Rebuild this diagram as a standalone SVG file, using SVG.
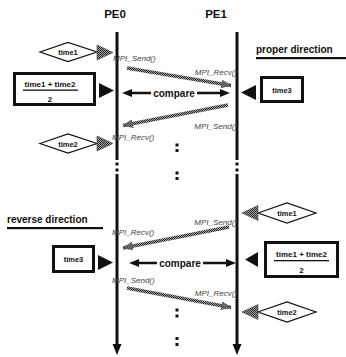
<svg xmlns="http://www.w3.org/2000/svg" width="346" height="357" viewBox="0 0 346 357">
<defs>
<pattern id="hatch" width="2" height="2" patternUnits="userSpaceOnUse">
<rect width="2" height="2" fill="#a8a8a8"/>
<rect width="1" height="1" fill="#222"/>
<rect x="1" y="1" width="1" height="1" fill="#222"/>
</pattern>
<marker id="hh" viewBox="0 0 10 8" refX="10" refY="4" markerWidth="10" markerHeight="8" markerUnits="userSpaceOnUse" orient="auto">
<path d="M0,0 L10,4 L0,8 z" fill="url(#hatch)" stroke="#444" stroke-width="0.6"/>
</marker>
</defs>
<style>
.life{stroke:#111;stroke-width:3;fill:none}
.msg{stroke:url(#hatch);stroke-width:3.5;fill:none;marker-end:url(#hh)}
.cmp{stroke:#111;stroke-width:2.5;fill:none}
.lbl{font-family:"Liberation Sans",Arial,sans-serif;font-size:8px;fill:#444;font-style:italic}
.b{font-family:"Liberation Sans",Arial,sans-serif;font-weight:bold;fill:#111}
.dia{fill:#fff;stroke:#111;stroke-width:1.2}
.box{fill:#fff;stroke:#111;stroke-width:3}
.htri{fill:url(#hatch);stroke:#444;stroke-width:0.6}
.dot{fill:#111}
</style>

<g id="PE0">
<text class="b" x="115" y="18" font-size="11.5" text-anchor="middle">PE0</text>
<path class="life" d="M117,32 V160 M117,174 V346"/>
<rect class="dot" x="115.5" y="162.5" width="3" height="3"/>
<rect class="dot" x="115.5" y="168.5" width="3" height="3"/>
<path d="M112.5,344 L121.5,344 L117,355 z" fill="#111"/>
</g>

<g id="PE1">
<text class="b" x="216" y="18" font-size="11.5" text-anchor="middle">PE1</text>
<path class="life" d="M237,32 V160 M237,174 V346"/>
<rect class="dot" x="235.5" y="162.5" width="3" height="3"/>
<rect class="dot" x="235.5" y="168.5" width="3" height="3"/>
<path d="M232.5,344 L241.5,344 L237,355 z" fill="#111"/>
</g>

<g id="ellipses">
<rect class="dot" x="175.5" y="143.5" width="3" height="3"/>
<rect class="dot" x="175.5" y="149" width="3" height="3"/>
<rect class="dot" x="175.5" y="171.5" width="3" height="3"/>
<rect class="dot" x="175.5" y="177" width="3" height="3"/>
<rect class="dot" x="175.5" y="308.5" width="3" height="3"/>
<rect class="dot" x="175.5" y="314.5" width="3" height="3"/>
<rect class="dot" x="175.5" y="337" width="3" height="3"/>
<rect class="dot" x="175.5" y="343" width="3" height="3"/>
</g>

<g id="proper-title">
<text class="b" x="256" y="53" font-size="10">proper direction</text>
<rect x="256" y="57" width="90" height="2.2" fill="#111"/>
</g>

<g id="p-time1">
<polygon class="dia" points="40,52 68,42.5 97,52 68,61.5"/>
<text class="b" x="68" y="55" font-size="7.5" text-anchor="middle">time1</text>
<polygon class="htri" points="97,45 113,52.5 97,60"/>
</g>

<g id="p-avg">
<rect class="box" x="14.5" y="73.5" width="80" height="31"/>
<text class="b" x="50" y="86.5" font-size="8" text-anchor="middle">time1 + time2</text>
<rect x="23" y="89.5" width="55" height="1.3" fill="#111"/>
<text class="b" x="50" y="102" font-size="8" text-anchor="middle">2</text>
<polygon points="99,83 114,90.5 99,98" fill="#111"/>
</g>

<g id="p-time2">
<polygon class="dia" points="40,143.5 68,134 97,143.5 68,153"/>
<text class="b" x="68" y="146.5" font-size="7.5" text-anchor="middle">time2</text>
<polygon class="htri" points="97,136 113,143.5 97,151"/>
</g>

<g id="p-time3">
<rect class="box" x="261.5" y="77.5" width="41" height="24"/>
<text class="b" x="282" y="92.5" font-size="7.5" text-anchor="middle">time3</text>
<polygon points="256,85 241,92.5 256,100" fill="#111"/>
</g>

<g id="reverse-title">
<text class="b" x="7" y="223" font-size="10">reverse direction</text>
<rect x="7" y="227" width="96" height="2.2" fill="#111"/>
</g>

<g id="r-time3">
<rect class="box" x="53.5" y="246.5" width="40" height="25"/>
<text class="b" x="73.5" y="262" font-size="7.5" text-anchor="middle">time3</text>
<polygon points="98,255 113,262.5 98,270" fill="#111"/>
</g>

<g id="r-time1">
<polygon class="dia" points="258,213 287,203 316,213 287,223"/>
<text class="b" x="287" y="216" font-size="7.5" text-anchor="middle">time1</text>
<polygon class="htri" points="258,205.5 242,213 258,220.5"/>
</g>

<g id="r-avg">
<rect class="box" x="265.5" y="242.5" width="72" height="34"/>
<text class="b" x="301.5" y="257" font-size="8" text-anchor="middle">time1 + time2</text>
<rect x="274" y="260" width="55" height="1.3" fill="#111"/>
<text class="b" x="301.5" y="273" font-size="8" text-anchor="middle">2</text>
<polygon points="258,252 245,259.5 258,267" fill="#111"/>
</g>

<g id="r-time2">
<polygon class="dia" points="258,312 287,302 316,312 287,322"/>
<text class="b" x="287" y="315" font-size="7.5" text-anchor="middle">time2</text>
<polygon class="htri" points="258,304.5 242,312 258,319.5"/>
</g>

<g id="connectors">
<path class="msg" d="M127,68 L231,85.5"/>
<path class="msg" d="M228,105 L123,125.5"/>
<path class="cmp" d="M130,93 H151 M197,93 H221"/>
<path d="M122,93 L132,89 L132,97 z M230,93 L220,89 L220,97 z" fill="#111"/>
<text class="b" x="174" y="96.5" font-size="10" text-anchor="middle">compare</text>

<path class="msg" d="M229,227 L123,248"/>
<path class="msg" d="M127,288 L231,307.5"/>
<path class="cmp" d="M138,263 H157 M203,263 H227"/>
<path d="M129,263 L139,259 L139,267 z M236,263 L226,259 L226,267 z" fill="#111"/>
<text class="b" x="180" y="266.5" font-size="10" text-anchor="middle">compare</text>

<text class="lbl" x="113" y="61">MPI_Send()</text>
<text class="lbl" x="237" y="75" text-anchor="end">MPI_Recv()</text>
<text class="lbl" x="237" y="129" text-anchor="end">MPI_Send()</text>
<text class="lbl" x="112" y="140">MPI_Recv()</text>
<text class="lbl" x="237" y="225" text-anchor="end">MPI_Send()</text>
<text class="lbl" x="112" y="235">MPI_Recv()</text>
<text class="lbl" x="112" y="283">MPI_Send()</text>
<text class="lbl" x="237" y="296" text-anchor="end">MPI_Recv()</text>
</g>
</svg>
